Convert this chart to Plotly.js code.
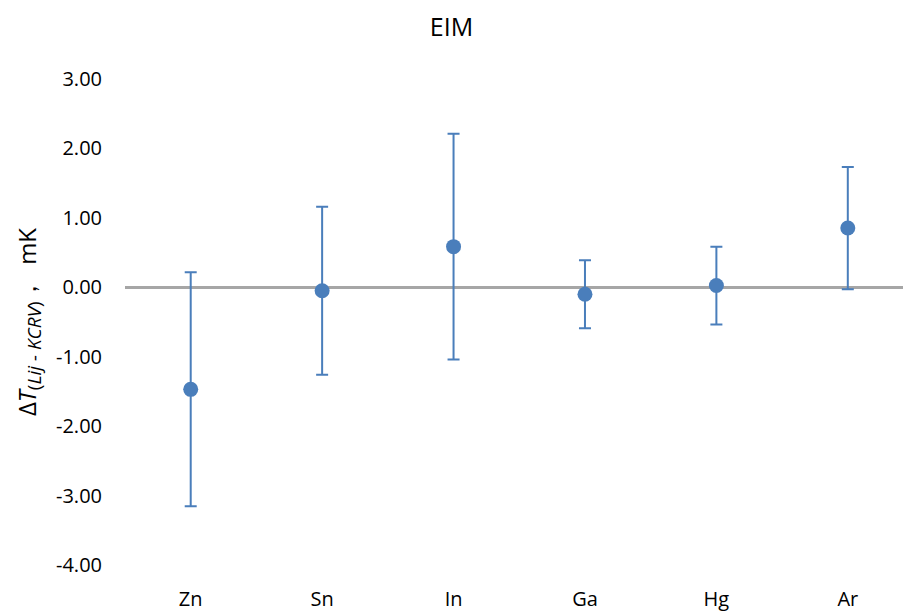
<!DOCTYPE html>
<html>
<head>
<meta charset="utf-8">
<script src="https://cdn.plot.ly/plotly-3.0.1.min.js"></script>
<style>html,body{margin:0;padding:0;background:#fff;}#chart{width:903px;height:615px;}</style>
</head>
<body>
<div id="chart"></div>
<script>
const categories = ["Zn", "Sn", "In", "Ga", "Hg", "Ar"];
const values = [-1.47, -0.05, 0.585, -0.10, 0.025, 0.853];
const errors = [1.685, 1.21, 1.625, 0.49, 0.56, 0.88];
const yTicks = [-4, -3, -2, -1, 0, 1, 2, 3];

const FONT = "'Open Sans', Lato, 'Liberation Sans', sans-serif";
const blue = "#4a7ebb";

const trace = {
  type: "scatter",
  mode: "markers",
  x: categories.map((c, i) => i),
  y: values,
  marker: {size: 15, color: blue},
  error_y: {type: "data", array: errors, visible: true, color: blue, thickness: 2, width: 6},
  hoverinfo: "x+y"
};

const layout = {
  width: 903, height: 615,
  margin: {l: 125, r: 0, t: 79, b: 50},
  paper_bgcolor: "#fff", plot_bgcolor: "#fff",
  showlegend: false,
  title: {text: "EIM", font: {family: FONT, size: 25, color: "#000"}, x: 0.5, xref: "container", y: 0.955, yref: "container", yanchor: "middle"},
  xaxis: {
    range: [-0.5, 5.42],
    tickvals: categories.map((c, i) => i),
    ticktext: categories,
    showgrid: false, zeroline: false, showline: false, ticks: "",
    tickfont: {family: FONT, size: 20, color: "#000"},
    ticklabelstandoff: 20
  },
  yaxis: {
    range: [-4, 3],
    tickvals: yTicks,
    ticktext: yTicks.map(v => v.toFixed(2)),
    showgrid: false, showline: false, ticks: "",
    zeroline: true, zerolinecolor: "#a6a6a6", zerolinewidth: 3,
    tickfont: {family: FONT, size: 20, color: "#000"},
    ticklabelstandoff: 22,
    title: {text: "Δ<i>T</i><sub><span style=\"font-size:19px\">(<i>Lij - KCRV</i>)</span></sub>，  mK", font: {family: FONT, size: 24, color: "#000"}, standoff: 12}
  }
};

Plotly.newPlot("chart", [trace], layout, {displayModeBar: false, staticPlot: true});
</script>
</body>
</html>
